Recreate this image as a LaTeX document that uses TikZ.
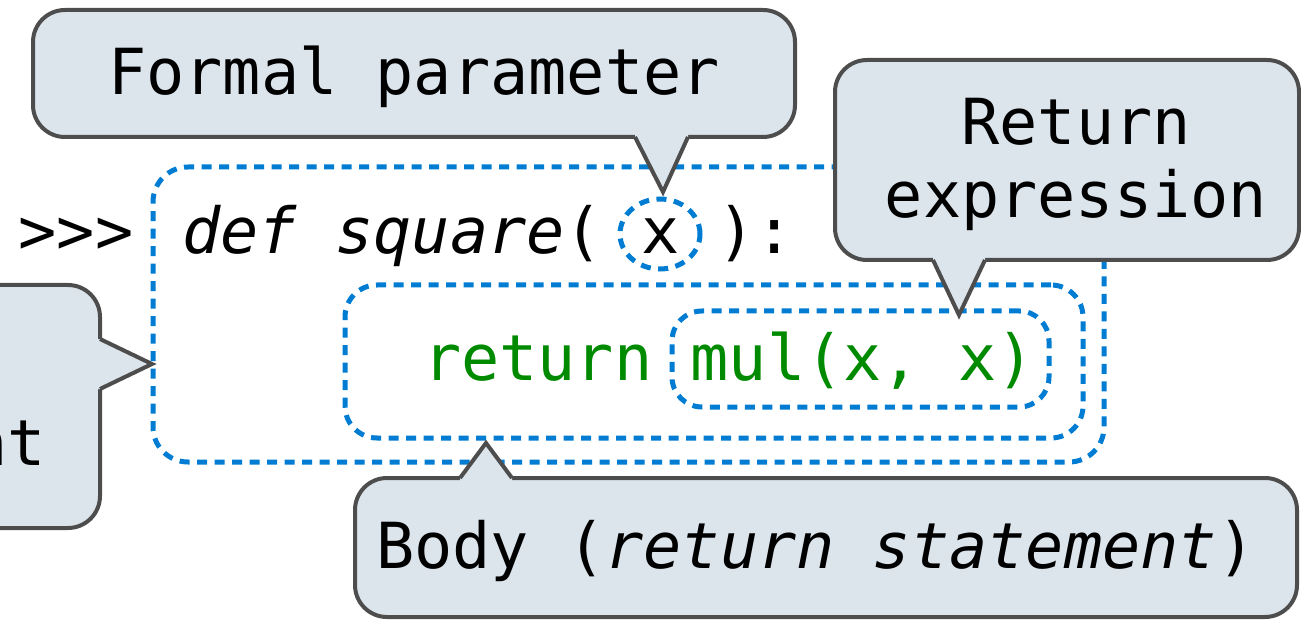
\documentclass[tikz,border=0pt]{standalone}
\usepackage{fontspec}
\setmonofont{DejaVu Sans Mono}
\usetikzlibrary{shapes.geometric,calc}
\definecolor{cfill}{RGB}{220,228,236}
\definecolor{cline}{RGB}{77,77,77}
\definecolor{dblue}{RGB}{0,125,210}
\definecolor{cgreen}{RGB}{0,138,0}
\frenchspacing
\begin{document}
\begin{tikzpicture}[x=1pt,y=-1pt,
  mono/.style={font=\fontsize{63.5}{73}\selectfont\ttfamily, inner sep=0pt, outer sep=0pt},
  callout/.style={rectangle, draw=cline, fill=cfill, line width=4pt, rounded corners=32pt, inner sep=0pt, outer sep=0pt},
  dotbox/.style={rectangle, draw=dblue, line width=5pt, dash pattern=on 10pt off 7.5pt, rounded corners=32pt, inner sep=0pt, outer sep=0pt},
  dotell/.style={ellipse, draw=dblue, line width=5pt, dash pattern=on 10pt off 7.5pt, inner sep=0pt, outer sep=0pt},
  tailfill/.style={fill=cfill},
  tailline/.style={draw=cline, line width=4pt, line join=miter}]
\useasboundingbox (0,0) rectangle (1301,620);

% dotted boxes
\node[dotbox, rounded corners=35pt, minimum width=951pt, minimum height=295pt] (outer) at (628.5,314.5) {};
\node[dotbox, minimum width=738pt, minimum height=153pt] (body) at (714,361.5) {};
\node[dotbox, rounded corners=30pt, minimum width=377pt, minimum height=96pt] (mul) at (860.5,359) {};
\node[dotell, minimum width=80pt, minimum height=70pt] (xc) at (660,234) {};

% code
\node[mono, anchor=base] (prompt) at (76,254) {>>>};
\node[mono, anchor=base west] (defl) at (182.5,254) {{\itshape def square}( x ):};
\node[mono, anchor=base west, text=cgreen] (ret) at (423,380) {return mul(x, x)};

% Formal parameter callout
\node[callout, minimum width=762pt, minimum height=127pt] (fp) at (414,73.5) {};
\coordinate (fpb) at (xc.north |- fp.south);
\coordinate (fpk) at ($(xc.north)+(3,-7)$);
\fill[tailfill] ($(fpb)+(-25,0)$) -- (fpk) -- ($(fpb)+(28,0)$) -- ($(fpb)+(28,-8)$) -- ($(fpb)+(-25,-8)$) -- cycle;
\draw[tailline] ($(fpb)+(-25,0)$) -- (fpk) -- ($(fpb)+(28,0)$);
\node[mono, anchor=base] (fpl) at (414,95) {Formal parameter};

% Return expression callout
\node[callout, minimum width=464pt, minimum height=200pt] (rb) at (1067,160) {};
\coordinate (rbk) at ($(mul.north)+(98.5,4)$);
\coordinate (rbb) at (rbk |- rb.south);
\fill[tailfill] ($(rbb)+(-26,0)$) -- (rbk) -- ($(rbb)+(26,0)$) -- ($(rbb)+(26,-8)$) -- ($(rbb)+(-26,-8)$) -- cycle;
\draw[tailline] ($(rbb)+(-26,0)$) -- (rbk) -- ($(rbb)+(26,0)$);
\node[mono, anchor=base] (rbl1) at (1076,145) {Return};
\node[mono, anchor=base] (rbl2) at (1076,218) {expression};

% Body callout
\node[callout, minimum width=942pt, minimum height=139pt] (bb) at (826,547.5) {};
\coordinate (bbk) at ($(body.south)+(-228,5)$);
\coordinate (bbb) at (bbk |- bb.north);
\fill[tailfill] ($(bbb)+(-26,0)$) -- (bbk) -- ($(bbb)+(26,0)$) -- ($(bbb)+(26,8)$) -- ($(bbb)+(-26,8)$) -- cycle;
\draw[tailline] ($(bbb)+(-26,0)$) -- (bbk) -- ($(bbb)+(26,0)$);
\node[mono, anchor=base west] (bbl) at (376,568) {Body ({\itshape return statement})};

% Def statement callout (mostly off the left edge)
\node[callout, minimum width=452pt, minimum height=243pt] (lb) at (-126,406.5) {};
\coordinate (lbk) at ($(outer.west)+(-1,49.5)$);
\coordinate (lbb) at (lbk -| lb.east);
\fill[tailfill] ($(lbb)+(0,-25)$) -- (lbk) -- ($(lbb)+(0,25)$) -- ($(lbb)+(-8,25)$) -- ($(lbb)+(-8,-25)$) -- cycle;
\draw[tailline] ($(lbb)+(0,-25)$) -- (lbk) -- ($(lbb)+(0,25)$);
\node[mono, anchor=base east] (lbl2) at (46,465) {statement};
\node[mono, anchor=base] (lbl1) at ($(lbl2.base)+(0,-73)$) {Def};
\end{tikzpicture}
\end{document}
